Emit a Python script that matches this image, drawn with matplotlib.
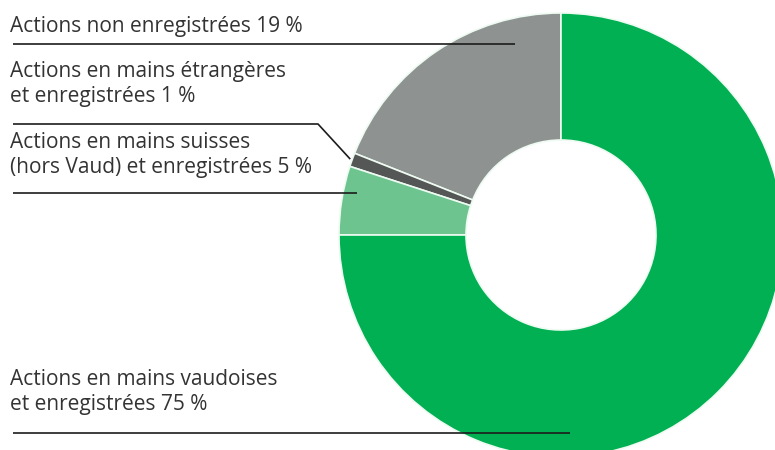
import numpy as np
import matplotlib
matplotlib.use("Agg")
import matplotlib.pyplot as plt

# share distribution, counter-clockwise from the top
labels = [
    "Actions non enregistrées 19 %",
    "Actions en mains étrangères\net enregistrées 1 %",
    "Actions en mains suisses\n(hors Vaud) et enregistrées 5 %",
    "Actions en mains vaudoises\net enregistrées 75 %",
]
shares = [19, 1, 5, 75]
colors = ["#8e9291", "#555756", "#6dc48e", "#00b052"]

W, H = 775, 450
fig = plt.figure(figsize=(W / 100, H / 100), dpi=100)
ax = fig.add_axes([0, 0, 1, 1])

cx, cy = 561, H - 235
R, r = 222, 95

wedges, _ = ax.pie(shares, colors=colors, startangle=90, counterclock=True,
                   radius=R, center=(cx, cy),
                   wedgeprops=dict(width=R - r, edgecolor="#eefbf2", linewidth=1.2))

ax.set_xlim(0, W)
ax.set_ylim(0, H)
ax.set_aspect("equal")
ax.axis("off")

txt = dict(fontsize=15, color="#333333", family=["Open Sans", "DejaVu Sans"],
           va="top", ha="left", linespacing=1.22)
line = dict(color="#1c1c1c", lw=1.2, solid_capstyle="butt")

# label blocks: top of text and y of the leader line (pixels from the top)
text_top = [16, 61, 132, 369]
line_y = [44, 124, 193, 433]
line_end = [515, None, 357, 570]

for i, lab in enumerate(labels):
    ax.text(10, H - text_top[i], lab, **txt)
    ly = H - line_y[i]
    if line_end[i] is not None:
        ax.plot([13, line_end[i]], [ly, ly], **line)
    else:
        # thin wedge: bend the leader towards its outer edge
        w = wedges[i]
        mid = np.deg2rad((w.theta1 + w.theta2) / 2)
        ex, ey = cx + (R + 2) * np.cos(mid), cy + (R + 2) * np.sin(mid)
        ax.plot([13, 318, ex], [ly, ly, ey], **line)

fig.savefig("out.png", dpi=100)
